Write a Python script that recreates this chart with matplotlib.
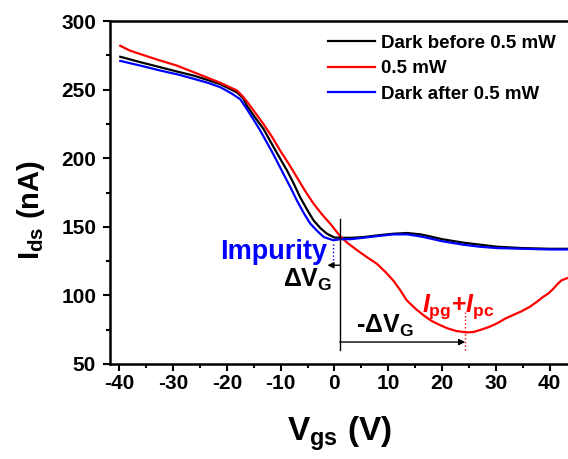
import matplotlib

matplotlib.use("Agg")
from matplotlib import pyplot as plt
from matplotlib.ticker import MultipleLocator

plt.rcParams["font.family"] = ["Liberation Sans", "DejaVu Sans"]
plt.rcParams["font.weight"] = "bold"
plt.rcParams["axes.labelweight"] = "bold"
plt.rcParams["axes.unicode_minus"] = False
plt.rcParams["mathtext.fontset"] = "custom"
plt.rcParams["mathtext.rm"] = "Liberation Sans:bold"
plt.rcParams["mathtext.bf"] = "Liberation Sans:bold"
plt.rcParams["mathtext.it"] = "Liberation Sans:bold:italic"

# transfer curves, Vgs (V) vs Ids (nA)
dark_before_vgs = [-39.8, -36, -32.4, -29, -26.2, -23.5, -21.2, -18.1, -17, -16.3, -14.8,
                   -13.2, -11, -8.8, -7.5, -6.4, -5, -3.9, -2.6, -1.4, 0, 1.1, 3, 5.3,
                   8.5, 11, 13.5, 16, 17.8, 20, 23.9, 27, 30.2, 35, 40, 43.4]
dark_before_ids = [274, 270, 266.4, 263, 260.3, 257, 254, 248, 244, 238.5, 230,
                   221.5, 206, 191, 181, 171.8, 162, 154.8, 149, 145, 142.2, 142, 142,
                   142.5, 144, 145, 145.5, 144.5, 143, 141, 138.5, 137, 135.5, 134.5,
                   134, 134]

light_vgs = [-39.8, -38, -36.1, -33, -29.3, -26, -23.1, -21.2, -18.1, -17, -16, -14.5,
             -13.2, -11.5, -10.1, -8.5, -7, -5.5, -3.9, -2.3, -0.8, 1.1, 2.5, 4.2, 6,
             7.9, 9.5, 10.9, 12.2, 13.4, 15, 16.5, 18, 19.6, 21, 22.7, 24.6, 25.8, 27,
             28.6, 30.2, 31.7, 33.2, 34.8, 36.3, 37.5, 38.8, 39.8, 40.7, 41.5, 42.2, 43.4]
light_ids = [282, 278.5, 276, 272, 267.6, 262.5, 258, 255, 249.4, 245, 240, 232,
             225, 215, 205.7, 196, 186.3, 176.5, 167, 159, 152.4, 143, 138, 133, 128,
             123, 117, 111, 104, 96.6, 90.5, 85.7, 81.5, 78.4, 76, 74, 73, 73.3, 74.7,
             76.8, 79.6, 83, 85.7, 88.5, 91.7, 95, 99, 101.5, 105, 108.5, 111, 112.8]

dark_after_vgs = [-39.8, -36, -32.4, -29, -26.2, -23.5, -21.2, -19, -17.5, -16.3, -15,
                  -13.8, -11.5, -9.5, -8.2, -7, -5.7, -4.5, -3.2, -2, -0.2, 1.1, 3, 5.3,
                  8.5, 11, 13.5, 16, 17.8, 20, 23.9, 27, 30.2, 35, 40, 43.4]
dark_after_ids = [271, 267.5, 264, 261, 258, 255, 251.8, 247, 243, 236, 228,
                  220.3, 204, 188.8, 179, 169.4, 160, 152.4, 147, 142.6, 140.2, 141, 141,
                  142, 143.5, 144.5, 144.5, 143, 141.5, 139.5, 137, 135.5, 134.5, 134,
                  133.5, 133.5]

series_labels = ["Dark before 0.5 mW", "0.5 mW", "Dark after 0.5 mW"]
series_colors = ["#000000", "#ff0000", "#0000ff"]

# threshold shifts
impurity_vgs = -0.2
cross_vgs = 1.0
light_min_vgs = 24.3

fig = plt.figure(figsize=(5.68, 4.59), dpi=100)
ax = fig.add_axes([0.1937, 0.207, 0.8063, 0.747])

for vgs, ids, label, color in zip(
    [dark_before_vgs, light_vgs, dark_after_vgs],
    [dark_before_ids, light_ids, dark_after_ids],
    series_labels,
    series_colors,
):
    ax.plot(vgs, ids, color=color, linewidth=1.6, label=label)

ax.set_xlim(-41.7, 43.4)
ax.set_ylim(50, 300)
ax.xaxis.set_major_locator(MultipleLocator(10))
ax.xaxis.set_minor_locator(MultipleLocator(5))
ax.yaxis.set_major_locator(MultipleLocator(50))
ax.yaxis.set_minor_locator(MultipleLocator(25))
ax.tick_params(which="both", direction="out", width=1.5, labelsize=15,
               top=False, right=False)
ax.tick_params(axis="x", pad=2)
ax.tick_params(axis="y", pad=5)
ax.tick_params(which="major", length=5)
ax.tick_params(which="minor", length=3)
for side in ["left", "bottom", "top"]:
    ax.spines[side].set_linewidth(1.8)
ax.spines["right"].set_visible(False)

ax.set_xlabel(r"$\mathrm{V_{gs}}$ (V)", fontsize=24, labelpad=16)
ax.set_ylabel(r"$\mathrm{I_{ds}}$ (nA)", fontsize=21)
ax.yaxis.set_label_coords(-0.137, 0.45)

ax.legend(loc="upper left", bbox_to_anchor=(0.5775, 0.925), bbox_transform=fig.transFigure,
          frameon=False, fontsize=13.5, handlelength=2.5, handletextpad=0.3,
          labelspacing=0.45, borderpad=0, borderaxespad=0)

# impurity shift marker
ax.plot([cross_vgs, cross_vgs], [60, 156], color="k", linewidth=1.0)
ax.plot([impurity_vgs, impurity_vgs], [126, 138], color="#0000ff", linewidth=1.0,
        linestyle=":")
ax.annotate("", xy=(-1.3, 122), xytext=(cross_vgs, 122),
            arrowprops=dict(arrowstyle="-|>", color="k", lw=1.0, mutation_scale=9,
                            shrinkA=0, shrinkB=0))
ax.text(-1.3, 132, "Impurity", color="#0000ff", fontsize=19.5, ha="right", va="center")
ax.text(-0.3, 111, r"$\mathrm{\Delta V_G}$", color="k", fontsize=18, ha="right",
        va="center")

# photogating / photoconductive shift marker
ax.annotate("", xy=(light_min_vgs, 66), xytext=(cross_vgs, 66),
            arrowprops=dict(arrowstyle="-|>", color="k", lw=1.0, mutation_scale=9,
                            shrinkA=0, shrinkB=0))
ax.plot([light_min_vgs, light_min_vgs], [60, 88], color="#ff0000", linewidth=1.0,
        linestyle=":")
ax.text(9.4, 78, r"-$\mathrm{\Delta V_G}$", color="k", fontsize=18, ha="center",
        va="center")
ax.text(16.3, 92, r"$\mathit{I}_\mathrm{pg}\mathrm{+}\mathit{I}_\mathrm{pc}$",
        color="#ff0000", fontsize=18, ha="left", va="center")

fig.savefig("out.png", dpi=100)
